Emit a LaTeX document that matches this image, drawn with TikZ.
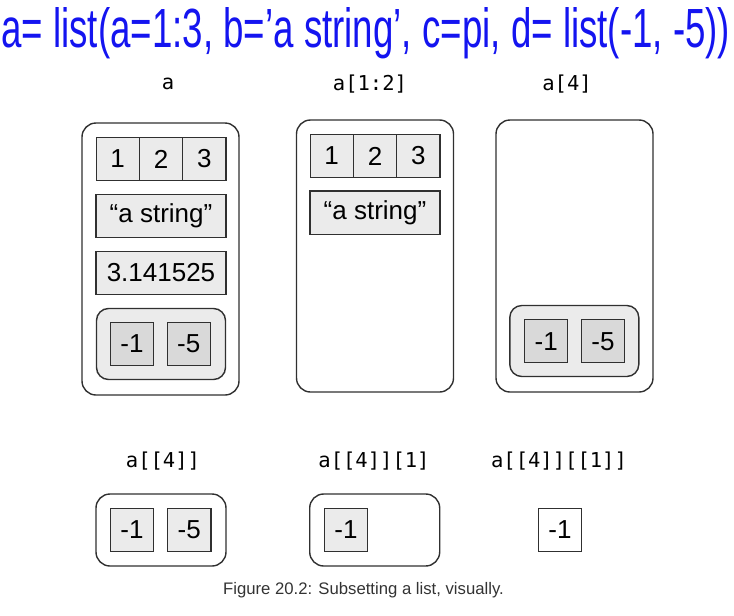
\documentclass[tikz,border=0pt]{standalone}
\usepackage{fontspec}
\setmainfont{Liberation Sans}
\setmonofont{DejaVu Sans Mono}
\usepackage{graphicx}
\usetikzlibrary{positioning}
\definecolor{inkblue}  {HTML}{1414F0}
\definecolor{edgegray} {HTML}{303030}
\definecolor{cellgray} {HTML}{EBEBEB}
\definecolor{deepgray} {HTML}{D9D9D9}
\definecolor{capgray}  {HTML}{333333}

\begin{document}
\begin{tikzpicture}[
  x=1pt, y=-1pt,
  listbox/.style={draw=edgegray,line width=1.4pt,rounded corners=14pt,fill=white,
                  minimum width=157pt,minimum height=272pt,inner sep=0pt},
  sublist/.style={draw=edgegray,line width=1.4pt,rounded corners=12pt,fill=cellgray,
                  minimum width=129pt,minimum height=71pt,inner sep=0pt},
  flatlist/.style={draw=edgegray,line width=1.4pt,rounded corners=14pt,fill=white,
                  minimum width=130pt,minimum height=72pt,inner sep=0pt},
  cell/.style={draw=edgegray,line width=1.1pt,fill=cellgray,minimum width=43.3pt,
               minimum height=43.5pt,inner sep=0pt,font=\fontsize{26}{30}\selectfont},
  subcell/.style={cell,fill=deepgray,minimum width=43pt,minimum height=43pt},
  widecell/.style={cell,minimum width=130pt},
  lbl/.style={font=\ttfamily\fontsize{20.5}{24}\selectfont,text=black}
]
\useasboundingbox (0,0) rectangle (734,616);

% --- handwritten call ---
\node[anchor=base west,inner sep=0pt,text=inkblue] (call) at (1,47)
  {\resizebox{729pt}{40pt}{a= list(a=1:3, b='a string', c=pi, d= list(-1, -5))}};

% --- top labels ---
\node[lbl] (la)   at (168,84) {a};
\node[lbl] (lab)  at (370,84) {a[1:2]};
\node[lbl] (lac)  at (567,84) {a[4]};

% --- a ---
\node[listbox] (a) at (160.5,259) {};
\node[cell] (a1) at (117.7,159) {1};
\node[cell] (a2) at (161,159)   {2};
\node[cell] (a3) at (204.3,159) {3};
\node[widecell] (astr) at (161,216) {``a string''};
\node[widecell] (api)  at (161,273) {3.141525};
\node[sublist] (ad) at (161,344) {};
\node[subcell] (ad1) at (132,344)   {-1};
\node[subcell] (ad2) at (188.7,344) {-5};

% --- a[1:2] ---
\node[listbox] (b) at (375,256) {};
\node[cell] (b1) at (331.7,156) {1};
\node[cell] (b2) at (375,156)   {2};
\node[cell] (b3) at (418.3,156) {3};
\node[widecell] (bstr) at (375,212.7) {``a string''};

% --- a[4] ---
\node[listbox] (c) at (574.5,256) {};
\node[sublist] (cd) at (574.3,341) {};
\node[subcell] (cd1) at (546.3,341.3) {-1};
\node[subcell] (cd2) at (603,341.3)   {-5};

% --- bottom labels ---
\node[lbl] (ld) at (163,461) {a[[4]]};
\node[lbl] (le) at (374,461) {a[[4]][1]};
\node[lbl] (lf) at (559,461) {a[[4]][[1]]};

% --- a[[4]], a[[4]][1], a[[4]][[1]] ---
\node[flatlist] (d) at (161,530) {};
\node[cell] (d1) at (132,530)   {-1};
\node[cell] (d2) at (189.3,530) {-5};
\node[flatlist] (e) at (374.7,530) {};
\node[cell] (e1) at (346,530) {-1};
\node[cell,fill=white] (f1) at (560,530) {-1};

% --- caption ---
\node[text=capgray,font=\fontsize{16.7}{20}\selectfont] (cap) at (363.5,590)
  {Figure 20.2: Subsetting a list, visually.};
\end{tikzpicture}
\end{document}
